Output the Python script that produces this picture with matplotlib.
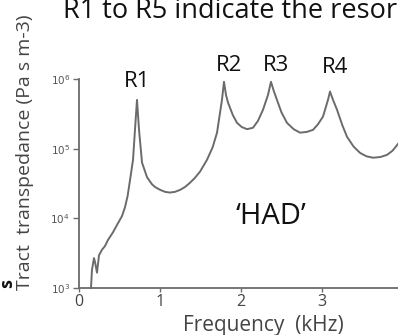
import matplotlib
matplotlib.use("Agg")
import matplotlib.pyplot as plt
import numpy as np

# curve: frequency (kHz) and log10 transpedance
freq_khz = [0.148, 0.160, 0.185, 0.198, 0.222, 0.247, 0.284, 0.320, 0.358, 0.420,
            0.481, 0.530, 0.568, 0.600, 0.630, 0.667, 0.691, 0.716, 0.741, 0.778,
            0.840, 0.900, 0.938, 1.000, 1.062, 1.120, 1.185, 1.250, 1.309, 1.370,
            1.430, 1.494, 1.580, 1.650, 1.704, 1.765, 1.790, 1.815, 1.840, 1.900,
            1.951, 2.010, 2.074, 2.148, 2.210, 2.272, 2.333, 2.370, 2.407, 2.444,
            2.500, 2.568, 2.650, 2.728, 2.810, 2.889, 2.950, 3.012, 3.074, 3.099,
            3.136, 3.185, 3.250, 3.309, 3.390, 3.469, 3.550, 3.630, 3.720, 3.802,
            3.870, 3.926, 3.970]
log_z = [3.00, 3.26, 3.43, 3.37, 3.22, 3.47, 3.55, 3.60, 3.69, 3.80,
         3.93, 4.03, 4.16, 4.32, 4.55, 4.84, 5.27, 5.70, 5.27, 4.80,
         4.59, 4.49, 4.45, 4.41, 4.38, 4.37, 4.38, 4.41, 4.45, 4.51,
         4.58, 4.67, 4.84, 5.02, 5.23, 5.70, 5.96, 5.77, 5.66, 5.48,
         5.37, 5.31, 5.28, 5.30, 5.40, 5.56, 5.77, 5.96, 5.82, 5.70,
         5.52, 5.37, 5.28, 5.23, 5.24, 5.27, 5.35, 5.46, 5.70, 5.82,
         5.70, 5.56, 5.34, 5.17, 5.03, 4.94, 4.89, 4.87, 4.88, 4.91,
         4.97, 5.05, 5.12]

peak_labels = ["R1", "R2", "R3", "R4"]
peak_x = [0.72, 1.85, 2.43, 3.16]
peak_label_y = [5.96, 6.20, 6.20, 6.17]
x_ticks = [0, 1, 2, 3, 4]
y_ticks = [1e3, 1e4, 1e5, 1e6]

grey = "#6b6b6b"
fam = ["Open Sans", "DejaVu Sans"]

fig = plt.figure(figsize=(3.98, 3.35), dpi=100)
ax = fig.add_axes([79 / 398, 47 / 335, 324 / 398, 209 / 335])

ax.plot(freq_khz, np.power(10.0, log_z), color=grey, lw=1.4, clip_on=False)
ax.set_yscale("log")
ax.set_xlim(0, 4)
ax.set_ylim(1e3, 1e6)
ax.set_xticks(x_ticks)
ax.set_xticklabels([str(t) for t in x_ticks], fontsize=11.5, color="#444444", family=fam)
ax.set_yticks(y_ticks)
ax.set_yticklabels(["$10^{%d}$" % int(np.log10(t)) for t in y_ticks], fontsize=7.5, color="#555555")
ax.minorticks_off()
ax.tick_params(axis="x", direction="out", length=3, width=1, color=grey, pad=1)
ax.tick_params(axis="y", direction="out", length=4.5, width=1, color=grey, pad=2)
for s in ["top", "right"]:
    ax.spines[s].set_visible(False)
for s in ["left", "bottom"]:
    ax.spines[s].set_color(grey)
    ax.spines[s].set_linewidth(1.3)

for lab, px, py in zip(peak_labels, peak_x, peak_label_y):
    ax.text(px, 10 ** py, lab, ha="center", va="center",
            fontsize=16, color="#111111", family=fam)

ax.text(2.37, 10 ** 4.03, "\u2018HAD\u2019", ha="center", va="center",
        fontsize=21, color="#111111", family=fam)

fig.text(63 / 398, 1 - 18 / 335, "R1 to R5 indicate the resor", ha="left", va="baseline",
         fontsize=19.5, color="#111111", family=fam)
fig.text(25 / 398, 1 - 152 / 335, "Tract  transpedance (Pa s m-3)", rotation=90,
         ha="center", va="center", fontsize=14, color="#444444", family=fam)
fig.text(263 / 398, 1 - 331 / 335, "Frequency  (kHz)", ha="center", va="baseline",
         fontsize=15, color="#444444", family=fam)
fig.text(-2 / 398, 1 - 284 / 335, "s", rotation=90, ha="left", va="center",
         fontsize=13, fontweight="bold", color="#111111", family=fam)

fig.savefig("out.png", dpi=100)
